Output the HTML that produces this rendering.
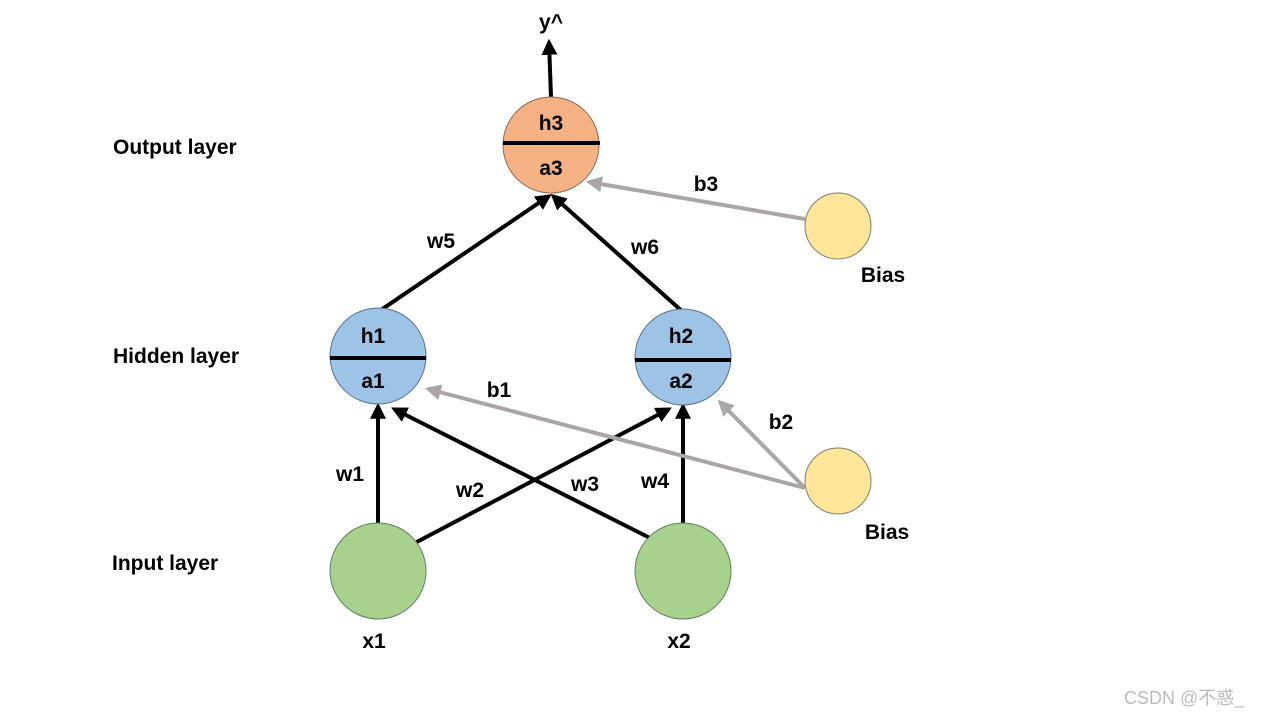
<!DOCTYPE html>
<html><head><meta charset="utf-8"><style>body{margin:0;background:#fff}svg{display:block}text{font-family:"Liberation Sans",sans-serif;font-weight:bold;font-size:21px;fill:#000}</style></head><body>
<svg width="1280" height="720" viewBox="0 0 1280 720">
<defs>
<marker id="a" viewBox="0 0 10 10" refX="8" refY="5" markerWidth="4" markerHeight="4" orient="auto"><path d="M0,0L10,5L0,10z" fill="#000"/></marker>
<marker id="g" viewBox="0 0 10 10" refX="8" refY="5" markerWidth="4" markerHeight="4" orient="auto"><path d="M0,0L10,5L0,10z" fill="#aaa6a6"/></marker>
</defs>
<g stroke="#000" stroke-width="4" marker-end="url(#a)">
<line x1="551" y1="97" x2="549" y2="42"/>
<line x1="378" y1="312" x2="549" y2="196"/>
<line x1="683" y1="312" x2="553" y2="196"/>
<line x1="378" y1="523" x2="378" y2="406"/>
<line x1="683" y1="523" x2="683" y2="406"/>
<line x1="413" y1="544" x2="669" y2="409"/>
<line x1="650" y1="538" x2="394" y2="409"/>
</g>
<g stroke="#aaa6a6" stroke-width="4" marker-end="url(#g)">
<line x1="805" y1="219" x2="589" y2="182"/>
<line x1="805" y1="488" x2="428" y2="389"/>
<line x1="805" y1="488" x2="720" y2="402"/>
</g>
<g stroke="#5a7090" stroke-width="1">
<circle cx="551" cy="145" r="48" fill="#f4b183" stroke="#8a6a55"/>
<circle cx="378" cy="356" r="48" fill="#9dc3e6"/>
<circle cx="683" cy="357" r="48" fill="#9dc3e6"/>
<circle cx="378" cy="571" r="48" fill="#a9d18e" stroke="#5f7f5f"/>
<circle cx="683" cy="571" r="48" fill="#a9d18e" stroke="#5f7f5f"/>
<circle cx="838" cy="226" r="33" fill="#ffe699" stroke="#7f7f6f"/>
<circle cx="838" cy="481" r="33" fill="#ffe699" stroke="#7f7f6f"/>
</g>
<g stroke="#000" stroke-width="4">
<line x1="503" y1="143" x2="600" y2="143"/>
<line x1="330" y1="358" x2="426" y2="358"/>
<line x1="635" y1="360" x2="731" y2="360"/>
</g>
<g text-anchor="middle">
<text x="551" y="29">y^</text>
<text x="551" y="130">h3</text><text x="551" y="175">a3</text>
<text x="373" y="343">h1</text><text x="373" y="388">a1</text>
<text x="681" y="343">h2</text><text x="681" y="388">a2</text>
<text x="374" y="648">x1</text><text x="679" y="648">x2</text>
<text x="441" y="248">w5</text><text x="645" y="254">w6</text>
<text x="350" y="481">w1</text><text x="470" y="497">w2</text>
<text x="585" y="491">w3</text><text x="655" y="488">w4</text>
<text x="706" y="191">b3</text><text x="499" y="397">b1</text><text x="781" y="429">b2</text>
<text x="883" y="282">Bias</text><text x="887" y="539">Bias</text>
</g>
<text x="113" y="154">Output layer</text>
<text x="113" y="363">Hidden layer</text>
<text x="112" y="570">Input layer</text>
<text x="1124" y="704" style="font-weight:normal;font-size:18px;fill:#bbb;font-family:'Liberation Sans','Noto Sans CJK SC',sans-serif">CSDN @不惑_</text>
</svg>
</body></html>
